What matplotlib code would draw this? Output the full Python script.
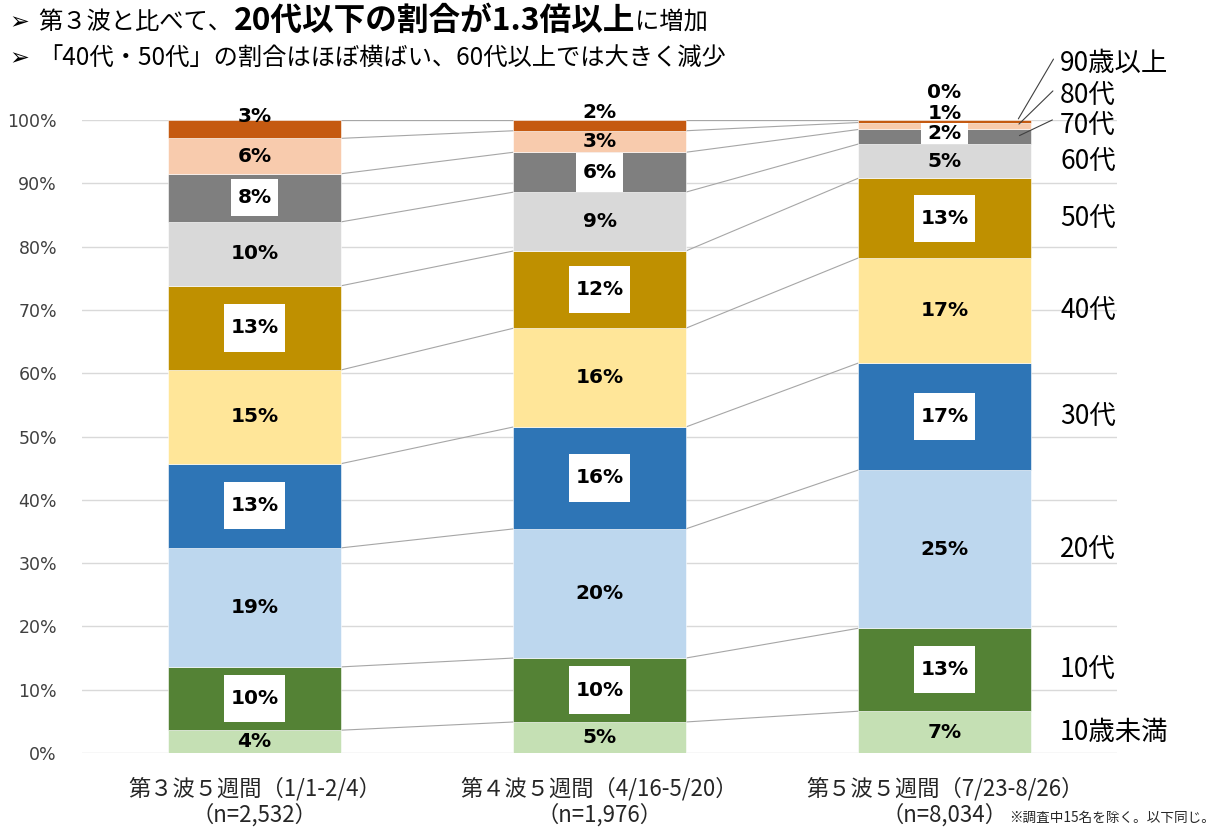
import matplotlib
matplotlib.use('Agg')
import matplotlib.pyplot as plt
from matplotlib.path import Path
import numpy as np

plt.rcParams['font.family'] = ['Noto Sans CJK JP', 'DejaVu Sans']

# ---------------- data ----------------
categories = ['第３波５週間（1/1-2/4）',
              '第４波５週間（4/16-5/20）',
              '第５波５週間（7/23-8/26）']
sample_sizes = ['（n=2,532）', '（n=1,976）', '（n=8,034）']
age_groups = ['10歳未満', '10代', '20代', '30代', '40代', '50代',
              '60代', '70代', '80代', '90歳以上']
wave3 = [3.6, 10.0, 18.8, 13.3, 14.8, 13.3, 10.1, 7.6, 5.6, 2.9]
wave4 = [4.9, 10.1, 20.4, 16.1, 15.6, 12.2, 9.3, 6.3, 3.4, 1.7]
wave5 = [6.6, 13.1, 25.0, 16.9, 16.6, 12.6, 5.4, 2.3, 1.1, 0.4]
yticks = [0, 10, 20, 30, 40, 50, 60, 70, 80, 90, 100]

colors = ['#C5E0B4', '#548235', '#BDD7EE', '#2E75B6', '#FFE699',
          '#BF9000', '#D9D9D9', '#7F7F7F', '#F8CBAD', '#C55A11']
boxed = {1, 3, 5, 7}
# label y overrides for very thin segments (bar index, segment index) -> y
label_y_override = {(0, 9): 100.6, (1, 9): 101.2, (2, 9): 104.3,
                    (2, 8): 101.1, (2, 7): 97.9}
# vertical padding of the white label boxes (fraction of font size)
box_pady = {(0, 7): 0.45, (1, 7): 0.5, (2, 7): 0.05}
# right-hand legend label y positions (segments crowded at top)
legend_y_override = {7: 99.2, 8: 103.9, 9: 109.0}

data = np.array([wave3, wave4, wave5])


def make_box(padx, pady):
    def box(x0, y0, width, height, mutation_size):
        px = padx * mutation_size
        py = pady * mutation_size
        x0, y0 = x0 - px, y0 - py
        x1, y1 = x0 + width + 2 * px, y0 + height + 2 * py
        return Path([(x0, y0), (x1, y0), (x1, y1), (x0, y1), (x0, y0)],
                    closed=True)
    return box


W, H = 1221, 833
fig = plt.figure(figsize=(W / 100, H / 100), dpi=100)
ax = fig.add_axes([82 / W, 1 - 753 / H, (1117 - 82) / W, (753 - 120) / H])

x = np.arange(len(categories))
bw = 0.5
bottoms = np.zeros(len(categories))
tops_all = []
for s in range(len(age_groups)):
    vals = data[:, s]
    ax.bar(x, vals, bw, bottom=bottoms, color=colors[s], edgecolor='white',
           linewidth=0.4, zorder=3)
    for i in range(len(categories)):
        yc = bottoms[i] + vals[i] / 2
        yc = label_y_override.get((i, s), yc)
        txt = f'{int(round(vals[i]))}%'
        kw = dict(ha='center', va='center', fontsize=14.5, fontweight='bold',
                  color='black', family='DejaVu Sans', zorder=6)
        if s in boxed:
            kw['bbox'] = dict(boxstyle=make_box(0.32, box_pady.get((i, s), 0.7)),
                              facecolor='white', edgecolor='none')
        ax.text(x[i], yc, txt, **kw)
    bottoms = bottoms + vals
    tops_all.append(bottoms.copy())

# connector lines between bars
for tops in tops_all:
    for i in range(len(categories) - 1):
        ax.plot([x[i] + bw / 2, x[i + 1] - bw / 2], [tops[i], tops[i + 1]],
                color='#A6A6A6', lw=0.8, zorder=2)

# right-hand labels
last = data[-1]
cum = np.concatenate([[0], np.cumsum(last)])
for s, name in enumerate(age_groups):
    yc = (cum[s] + cum[s + 1]) / 2
    yl = legend_y_override.get(s, yc)
    ax.text(2.335, yl, name, ha='left', va='center', fontsize=19,
            color='black', clip_on=False, zorder=6)
    if s in legend_y_override:
        ax.annotate('', xy=(x[-1] + bw / 2 - 0.04, yc), xytext=(2.32, yl + 1.0),
                    arrowprops=dict(arrowstyle='-', color='#404040', lw=0.8),
                    annotation_clip=False, zorder=6)

ax.set_xlim(-0.5, 2.5)
ax.set_ylim(0, 100)
ax.set_yticks(yticks)
ax.set_yticklabels([f'{t}%' for t in yticks], family='DejaVu Sans',
                   fontsize=12.5, color='#404040')
ax.set_xticks([])
ax.tick_params(axis='both', length=0)
ax.tick_params(axis='y', pad=18)
ax.grid(axis='y', color='#D9D9D9', lw=1, zorder=0)
for sp in ax.spines.values():
    sp.set_visible(False)

# category labels (two lines)
trans = ax.get_xaxis_transform()
for i in range(len(categories)):
    ax.annotate(categories[i], xy=(x[i], 0), xycoords=trans,
                xytext=(0, -36), textcoords='offset pixels',
                ha='center', va='center', fontsize=16, color='#262626')
    ax.annotate(sample_sizes[i], xy=(x[i], 0), xycoords=trans,
                xytext=(0, -62), textcoords='offset pixels',
                ha='center', va='center', fontsize=16, color='#262626')

# footnote
fig.text(1009 / W, 1 - 818 / H, '※調査中15名を除く。以下同じ。', fontsize=9.8,
         ha='left', va='center', color='#262626')

# title lines
fig.text(9 / W, 1 - 22 / H, '➢', fontsize=17, ha='left', va='center',
         family=['DejaVu Sans'])
t1 = fig.text(38 / W, 1 - 22 / H, '第３波と比べて、', fontsize=17.5,
              ha='left', va='center')
t2 = ax.annotate('20代以下の割合が1.3倍以上', xy=(1, 0.5), xycoords=t1,
                 xytext=(2, 1), textcoords='offset pixels',
                 fontsize=22.8, fontweight='bold', ha='left', va='center',
                 annotation_clip=False)
ax.annotate('に増加', xy=(1, 0.5), xycoords=t2, xytext=(0, -1),
            textcoords='offset pixels', fontsize=17.5, ha='left', va='center',
            annotation_clip=False)
fig.text(9 / W, 1 - 58 / H, '➢', fontsize=17, ha='left', va='center',
         family=['DejaVu Sans'])
fig.text(38 / W, 1 - 58 / H, '「40代・50代」の割合はほぼ横ばい、60代以上では大きく減少',
         fontsize=17.5, ha='left', va='center')

fig.savefig('out.png', dpi=100)
